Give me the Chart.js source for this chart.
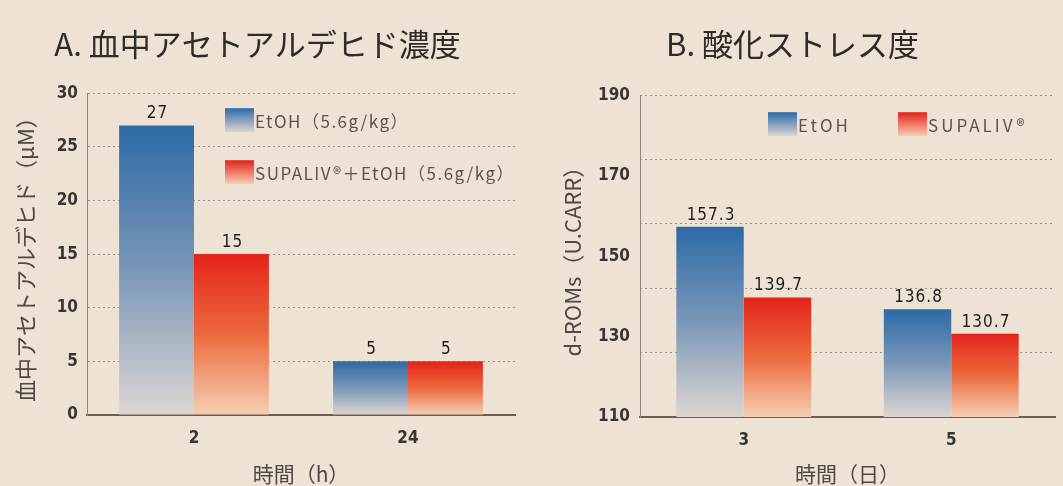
<!DOCTYPE html>
<html>
<head>
<meta charset="utf-8">
<script src="https://cdn.jsdelivr.net/npm/chart.js@4.4.1/dist/chart.umd.min.js"></script>
<style>
  body { margin: 0; background: #eee2d4; }
  .wrap { position: absolute; top: 0; height: 486px; }
</style>
</head>
<body>
<div class="wrap" style="left:0;width:530px"><canvas id="chartA"></canvas></div>
<div class="wrap" style="left:530px;width:533px"><canvas id="chartB"></canvas></div>
<script>
// data
const catsA = ["2", "24"];
const etohA = [27, 5];
const supaA = [15, 5];

const catsB = ["3", "5"];
const etohB = [157.3, 136.8];
const supaB = [139.7, 130.7];

const FONT = "'DejaVu Sans Condensed','Liberation Sans Narrow','Noto Sans CJK JP',sans-serif";
const JFONT = "'Noto Sans CJK JP','Noto Sans',sans-serif";
const TXT = "#3a3633";
const BLUE = ["#2c6aa6", "#7b97b8", "#ddd6d2"];
const RED = ["#e5231a", "#ec6a3e", "#f5cfb3"];

// vertical fade per bar, from its top to the axis
function fade(cols) {
  return (ctx) => {
    const chart = ctx.chart;
    const ys = chart.scales.y;
    if (!ys || ctx.raw == null) return cols[0];
    const top = ys.getPixelForValue(ctx.raw);
    const bot = ys.getPixelForValue(ys.min);
    if (!isFinite(top) || !isFinite(bot) || bot <= top) return cols[0];
    const g = chart.ctx.createLinearGradient(0, top, 0, bot);
    g.addColorStop(0, cols[0]);
    g.addColorStop(0.5, cols[1]);
    g.addColorStop(1, cols[2]);
    return g;
  };
}

// numbers above the bars
const valueLabels = {
  id: "valueLabels",
  afterDatasetsDraw(chart) {
    const c = chart.ctx;
    c.save();
    c.font = "17px " + FONT;
    c.letterSpacing = "1px";
    c.fillStyle = "#1f1c1a";
    c.textAlign = "center";
    c.textBaseline = "bottom";
    chart.data.datasets.forEach((ds, i) => {
      chart.getDatasetMeta(i).data.forEach((bar, j) => {
        c.fillText(String(ds.data[j]), bar.x + 1, bar.y - 3);
      });
    });
    c.restore();
  }
};

// legend drawn inside the plot
const boxLegend = {
  id: "boxLegend",
  afterDraw(chart, args, opts) {
    const a = chart.chartArea;
    const c = chart.ctx;
    c.save();
    c.font = opts.size + "px " + JFONT;
    c.letterSpacing = opts.spacing + "px";
    c.textBaseline = "middle";
    chart.data.datasets.forEach((ds, i) => {
      const x = a.left + opts.spots[i][0];
      const y = a.top + opts.spots[i][1];
      const cols = opts.colors[i];
      const g = c.createLinearGradient(0, y, 0, y + 24);
      g.addColorStop(0, cols[0]);
      g.addColorStop(1, cols[2]);
      c.fillStyle = g;
      c.fillRect(x, y, 29, 24);
      c.fillStyle = "#5b544e";
      c.fillText(ds.label, x + 30, y + 13);
    });
    c.restore();
  }
};

function hideAt(v) {
  return (ctx) => (ctx.tick && ctx.tick.value === v ? "rgba(0,0,0,0)" : "#9d9189");
}

const tickFont = { family: FONT, size: 17, weight: "bold" };

// A
new Chart(document.getElementById("chartA"), {
  type: "bar",
  data: {
    labels: catsA,
    datasets: [
      { label: "EtOH（5.6g/kg）", data: etohA, backgroundColor: fade(BLUE) },
      { label: "SUPALIV®＋EtOH（5.6g/kg）", data: supaA, backgroundColor: fade(RED) }
    ]
  },
  options: {
    responsive: true,
    maintainAspectRatio: false,
    animation: false,
    layout: { padding: { left: 0, right: 15, top: 0, bottom: 0 } },
    datasets: { bar: { barPercentage: 1, categoryPercentage: 0.7 } },
    plugins: {
      legend: { display: false },
      tooltip: { enabled: false },
      title: {
        display: true,
        text: "A. 血中アセトアルデヒド濃度",
        color: "#2f2b28",
        font: { family: JFONT, size: 31, weight: "normal" },
        padding: { top: 26, bottom: 30 }
      },
      boxLegend: {
        spots: [[138, 15], [138, 67]],
        colors: [BLUE, RED],
        size: 17,
        spacing: 1.5
      }
    },
    scales: {
      x: {
        afterFit: (s) => { s.height = 71; },
        grid: { display: false },
        border: { color: "#6e5f52", width: 2 },
        ticks: { color: TXT, padding: 5, font: tickFont },
        title: {
          display: true,
          text: "時間（h）",
          color: "#4f4843",
          font: { family: JFONT, size: 21 },
          padding: { top: 0, bottom: -1 }
        }
      },
      y: {
        min: 0,
        max: 30,
        afterFit: (s) => { s.width = 87; },
        ticks: { stepSize: 5, padding: 9, color: TXT, font: tickFont },
        grid: { drawTicks: false, color: hideAt(0), lineWidth: 1 },
        border: { color: "#8f847b", width: 1, dash: [2, 3] },
        title: {
          display: true,
          text: "血中アセトアルデヒド（μM）",
          color: "#4f4843",
          font: { family: JFONT, size: 22 },
          padding: { top: 12, bottom: 0 }
        }
      }
    }
  },
  plugins: [valueLabels, boxLegend]
});

// B
new Chart(document.getElementById("chartB"), {
  type: "bar",
  data: {
    labels: catsB,
    datasets: [
      { label: "EtOH", data: etohB, backgroundColor: fade(BLUE) },
      { label: "SUPALIV®", data: supaB, backgroundColor: fade(RED) }
    ]
  },
  options: {
    responsive: true,
    maintainAspectRatio: false,
    animation: false,
    layout: { padding: { left: 0, right: 8, top: 0, bottom: 0 } },
    datasets: { bar: { barPercentage: 1, categoryPercentage: 0.65 } },
    plugins: {
      legend: { display: false },
      tooltip: { enabled: false },
      title: {
        display: true,
        text: "B. 酸化ストレス度",
        color: "#2f2b28",
        font: { family: JFONT, size: 31, weight: "normal" },
        padding: { top: 26, bottom: 32 }
      },
      boxLegend: {
        spots: [[128, 17], [258, 17]],
        colors: [BLUE, RED],
        size: 17,
        spacing: 3
      }
    },
    scales: {
      x: {
        afterFit: (s) => { s.height = 69; },
        grid: { display: false },
        border: { color: "#6e5f52", width: 2 },
        ticks: { color: TXT, padding: 5, font: tickFont },
        title: {
          display: true,
          text: "時間（日）",
          color: "#4f4843",
          font: { family: JFONT, size: 21 },
          padding: { top: 0, bottom: -1 }
        }
      },
      y: {
        min: 110,
        max: 190,
        afterFit: (s) => { s.width = 110; },
        ticks: { stepSize: 20, padding: 10, color: TXT, font: tickFont },
        grid: { display: false, drawTicks: false },
        border: { color: "#8f847b", width: 1 },
        title: {
          display: true,
          text: "d-ROMs（U.CARR）",
          color: "#4f4843",
          font: { family: JFONT, size: 22 },
          padding: { top: 29, bottom: 0 }
        }
      },
      yg: {
        position: "right",
        min: 110,
        max: 190,
        afterFit: (s) => { s.width = 0; },
        ticks: { stepSize: 16, display: false },
        grid: { drawTicks: false, color: hideAt(110), lineWidth: 1 },
        border: { display: false, dash: [2, 3] }
      }
    }
  },
  plugins: [valueLabels, boxLegend]
});
</script>
</body>
</html>
